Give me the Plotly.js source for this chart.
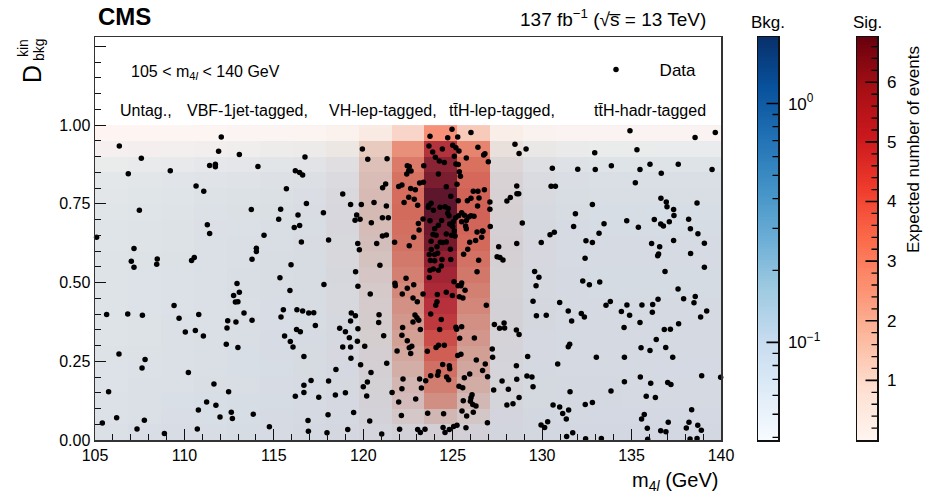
<!DOCTYPE html>
<html>
<head>
<meta charset="utf-8">
<script src="https://cdn.plot.ly/plotly-3.0.1.min.js"></script>
<style>html,body{margin:0;padding:0;background:#fff;}#chart{width:935px;height:498px;}</style>
</head>
<body>
<div id="chart"></div>
<script>
// ---- bin edges ----
const xEdges = [105, 106.84, 108.68, 110.53, 112.37, 114.21, 116.05, 117.89, 119.74, 121.58, 123.42, 125.26, 127.11, 128.95, 130.79, 132.63, 134.47, 136.32, 138.16, 140];
const yEdges = [0, 0.05, 0.10, 0.15, 0.20, 0.25, 0.30, 0.35, 0.40, 0.45, 0.50, 0.55, 0.60, 0.65, 0.70, 0.75, 0.80, 0.85, 0.90, 0.95, 1.00];

// ---- expected background per bin (rows: D bins from 0 upward) ----
const bkgYield = [
[0.55,0.61,0.66,0.72,0.77,0.86,0.94,0.99,1.05,1.05,1.10,1.10,1.10,1.10,1.10,1.10,1.10,1.10,1.10],
[0.50,0.55,0.60,0.65,0.70,0.78,0.85,0.90,0.95,0.95,1.00,1.00,1.00,1.00,1.00,1.00,1.00,1.00,1.00],
[0.48,0.52,0.57,0.62,0.67,0.74,0.81,0.86,0.90,0.90,0.95,0.95,0.95,0.95,0.95,0.95,0.95,0.95,0.95],
[0.46,0.51,0.55,0.60,0.64,0.72,0.78,0.83,0.87,0.87,0.92,0.92,0.92,0.92,0.92,0.92,0.92,0.92,0.92],
[0.45,0.50,0.54,0.59,0.63,0.70,0.77,0.81,0.86,0.86,0.90,0.90,0.90,0.90,0.90,0.90,0.90,0.90,0.90],
[0.44,0.48,0.53,0.57,0.62,0.69,0.75,0.79,0.84,0.84,0.88,0.88,0.88,0.88,0.88,0.88,0.88,0.88,0.88],
[0.43,0.47,0.52,0.56,0.60,0.67,0.73,0.77,0.82,0.82,0.86,0.86,0.86,0.86,0.86,0.86,0.86,0.86,0.86],
[0.43,0.47,0.51,0.55,0.60,0.66,0.72,0.77,0.81,0.81,0.85,0.85,0.85,0.85,0.85,0.85,0.85,0.85,0.85],
[0.42,0.46,0.50,0.55,0.59,0.66,0.71,0.76,0.80,0.80,0.84,0.84,0.84,0.84,0.84,0.84,0.84,0.84,0.84],
[0.42,0.46,0.50,0.54,0.58,0.65,0.71,0.75,0.79,0.79,0.83,0.83,0.83,0.83,0.83,0.83,0.83,0.83,0.83],
[0.41,0.45,0.49,0.53,0.57,0.64,0.70,0.74,0.78,0.78,0.82,0.82,0.82,0.82,0.82,0.82,0.82,0.82,0.82],
[0.40,0.44,0.48,0.52,0.56,0.62,0.68,0.72,0.76,0.76,0.80,0.80,0.80,0.80,0.80,0.80,0.80,0.80,0.80],
[0.39,0.43,0.47,0.51,0.55,0.61,0.66,0.70,0.74,0.74,0.78,0.78,0.78,0.78,0.78,0.78,0.78,0.78,0.78],
[0.37,0.41,0.44,0.48,0.52,0.58,0.63,0.67,0.70,0.70,0.74,0.74,0.74,0.74,0.74,0.74,0.74,0.74,0.74],
[0.35,0.39,0.42,0.46,0.49,0.55,0.60,0.63,0.67,0.67,0.70,0.70,0.70,0.70,0.70,0.70,0.70,0.70,0.70],
[0.32,0.35,0.38,0.42,0.45,0.50,0.54,0.58,0.61,0.61,0.64,0.64,0.64,0.64,0.64,0.64,0.64,0.64,0.64],
[0.28,0.31,0.34,0.36,0.39,0.44,0.48,0.50,0.53,0.53,0.56,0.56,0.56,0.56,0.56,0.56,0.56,0.56,0.56],
[0.20,0.22,0.24,0.26,0.28,0.31,0.34,0.36,0.38,0.38,0.40,0.40,0.40,0.40,0.40,0.40,0.40,0.40,0.40],
[0.10,0.11,0.12,0.13,0.14,0.16,0.17,0.18,0.19,0.19,0.20,0.20,0.20,0.20,0.20,0.20,0.20,0.20,0.20],
[0.040,0.040,0.042,0.045,0.048,0.050,0.053,0.055,0.057,0.057,0.060,0.060,0.060,0.060,0.060,0.060,0.060,0.060,0.060]
];

// ---- expected signal per bin ----
const sigYield = [
[0.03,0.03,0.03,0.03,0.04,0.04,0.05,0.08,0.20,0.35,0.5,0.40,0.12,0.06,0.04,0.03,0.03,0.03,0.03],
[0.04,0.04,0.04,0.04,0.05,0.05,0.06,0.10,0.35,0.90,1.3,0.90,0.20,0.08,0.05,0.04,0.04,0.04,0.04],
[0.04,0.04,0.04,0.05,0.05,0.06,0.07,0.12,0.45,1.20,2.4,1.30,0.25,0.10,0.05,0.05,0.04,0.04,0.04],
[0.04,0.04,0.05,0.05,0.05,0.06,0.08,0.15,0.50,1.40,2.8,1.60,0.30,0.10,0.06,0.05,0.04,0.04,0.04],
[0.04,0.05,0.05,0.05,0.06,0.06,0.08,0.15,0.55,1.60,3.2,1.80,0.30,0.10,0.06,0.05,0.05,0.04,0.04],
[0.05,0.05,0.05,0.05,0.06,0.07,0.09,0.20,0.60,1.80,3.6,2.00,0.35,0.12,0.06,0.05,0.05,0.05,0.05],
[0.05,0.05,0.05,0.06,0.06,0.07,0.09,0.20,0.70,2.00,4.0,2.20,0.40,0.12,0.06,0.05,0.05,0.05,0.05],
[0.05,0.05,0.05,0.06,0.06,0.07,0.10,0.20,0.80,2.20,4.5,2.40,0.45,0.15,0.07,0.05,0.05,0.05,0.05],
[0.05,0.05,0.05,0.06,0.06,0.07,0.10,0.25,0.85,2.40,4.7,2.60,0.45,0.15,0.07,0.05,0.05,0.05,0.05],
[0.05,0.05,0.06,0.06,0.07,0.08,0.10,0.25,0.90,2.60,5.0,2.80,0.50,0.15,0.07,0.06,0.05,0.05,0.05],
[0.05,0.05,0.06,0.06,0.07,0.08,0.11,0.30,1.00,2.80,5.3,3.00,0.50,0.18,0.07,0.06,0.05,0.05,0.05],
[0.05,0.06,0.06,0.06,0.07,0.08,0.11,0.30,1.10,3.00,5.8,3.20,0.55,0.20,0.08,0.06,0.05,0.05,0.05],
[0.05,0.06,0.06,0.07,0.07,0.08,0.12,0.30,1.20,3.20,6.3,3.40,0.60,0.20,0.08,0.06,0.05,0.05,0.05],
[0.05,0.06,0.06,0.07,0.07,0.09,0.12,0.35,1.30,3.30,6.5,3.50,0.60,0.20,0.08,0.06,0.05,0.05,0.05],
[0.05,0.06,0.06,0.07,0.08,0.09,0.12,0.35,1.40,3.40,6.7,3.60,0.65,0.20,0.08,0.06,0.05,0.05,0.05],
[0.05,0.06,0.06,0.07,0.08,0.09,0.12,0.35,1.40,3.40,6.7,3.60,0.65,0.20,0.08,0.06,0.05,0.05,0.05],
[0.05,0.06,0.06,0.07,0.08,0.09,0.12,0.35,1.40,3.30,6.3,3.50,0.65,0.20,0.08,0.06,0.05,0.05,0.05],
[0.05,0.06,0.06,0.07,0.08,0.09,0.12,0.35,1.40,3.20,6.1,3.40,0.65,0.20,0.08,0.06,0.05,0.05,0.05],
[0.04,0.05,0.05,0.06,0.07,0.08,0.10,0.30,1.30,2.80,5.4,3.10,0.60,0.20,0.07,0.05,0.05,0.04,0.04],
[0.02,0.03,0.03,0.03,0.04,0.04,0.05,0.15,0.50,1.20,3.0,1.50,0.30,0.10,0.04,0.03,0.03,0.02,0.02]
];

// ---- observed events: m4l (GeV) and D_bkg^kin ----
const dataM4l = [
106.36,107.59,106.86,109.21,112.06,111.91,113.07,111.41,111.73,111.73,114.11,110.65,111.08,116.20,116.44,116.61,115.70,107.48,113.74,115.38,115.27,116.35,116.44,116.14,111.28,111.41,114.45,116.54,105.09,107.18,107.03,107.18,108.48,108.45,110.55,110.40,114.02,114.02,113.78,115.96,115.34,116.74,116.82,
112.94,113.07,112.75,112.85,112.99,115.90,109.42,105.65,106.83,107.65,110.80,109.70,113.33,112.42,112.88,113.78,115.53,115.40,116.29,116.61,112.38,110.05,110.61,111.06,116.27,116.48,115.60,115.92,116.07,112.34,112.99,116.68,106.34,107.80,107.63,110.22,111.65,105.76,112.47,116.68,116.68,116.20,111.24,111.76,110.78,112.62,113.85,106.21,111.99,112.68,107.76,105.41,107.35,110.72,114.75,108.88,
124.96,126.02,123.73,124.72,125.28,123.67,124.42,125.00,125.18,125.35,126.41,126.73,126.80,123.88,124.03,125.09,125.76,119.95,120.25,121.33,124.25,124.53,125.18,125.31,126.99,123.38,122.46,122.57,122.54,122.67,122.43,125.37,125.43,124.20,121.25,121.08,122.16,121.98,123.15,123.36,122.65,122.91,124.64,125.24,126.15,126.41,126.77,118.85,122.54,122.85,124.89,126.47,126.02,125.82,117.77,119.29,119.89,120.60,121.29,122.28,123.04,123.66,123.79,123.64,123.92,124.29,124.57,124.75,124.72,124.79,125.31,127.08,126.39,127.08,125.50,125.65,125.33,125.16,125.03,125.50,125.76,125.89,126.02,126.19,119.63,119.54,119.82,120.45,121.07,121.40,123.34,123.73,124.38,124.83,124.94,123.08,123.12,124.20,123.99,125.00,125.76,125.09,125.72,127.10,126.36,126.66,118.06,119.69,119.78,120.75,121.07,121.29,121.75,122.82,122.57,123.90,124.07,123.79,124.64,124.94,125.13,124.44,124.31,124.64,124.12,125.95,126.28,126.62,126.69,123.80,123.69,123.99,124.16,124.87,124.40,124.89,123.75,123.99,125.84,126.45,125.61,120.93,119.57,124.36,124.20,123.73,123.92,126.36,127.57,127.48,127.64,127.81,128.03,128.22,123.69,122.39,
128.48,128.71,129.10,134.91,138.55,139.68,132.94,135.30,130.57,131.99,132.97,133.87,135.47,136.03,136.66,137.61,139.50,128.58,130.50,130.74,135.21,128.59,128.69,136.64,136.94,136.98,137.35,137.37,138.66,132.81,131.86,128.89,131.76,133.46,134.73,135.38,136.27,136.63,136.78,137.11,138.19,138.29,138.71,130.68,130.44,133.18,129.95,128.58,132.45,132.81,136.12,136.57,137.35,139.07,132.40,136.51,136.46,138.30,139.07,129.58,129.82,136.87,
129.66,132.27,132.64,133.22,129.49,130.98,137.60,137.91,138.56,138.49,139.20,138.86,133.57,133.81,134.74,135.58,136.18,136.48,129.68,130.23,131.46,132.19,132.36,131.65,134.43,134.89,136.16,135.47,134.58,137.63,136.83,137.17,136.38,128.56,128.71,131.46,131.54,135.53,136.03,136.91,137.30,129.19,133.03,134.60,130.87,128.56,129.15,129.43,128.58,129.49,135.49,134.60,136.07,137.02,137.20,138.92,139.98,131.56,133.85,128.71,135.82,136.33,130.61,130.98,131.48,131.15,131.35,132.41,132.81,135.71,135.56,138.36,129.94,130.14,130.31,137.05,138.21,138.70,138.90,138.06,135.88,136.63,136.92,131.37,131.71,132.43,133.31,135.90,138.27,138.66,
117.80,119.70,120.39,121.77,121.79,122.82,122.46,122.18,123.34,122.78,123.02,125.07,125.30,125.46,125.50,125.69,124.14,124.64,124.98,125.37,125.57,124.12,124.05,126.88,116.95,117.23,119.33,119.56,119.29,120.88,120.86,117.32,122.89,123.00,123.10,122.78,123.77,124.36,118.68,119.00,119.70,119.22,119.67,121.14,122.20,122.16,123.19,124.27,125.18,125.22,125.50,125.39,126.21,127.33,127.62,127.87,127.90,118.85,119.29,120.08,122.46,122.71,122.57,121.89,122.65,124.07,124.21,124.53,119.31,121.31,119.85,118.47,123.58,125.28,125.46,126.32,127.21,127.23,124.44,124.81,124.83,124.20,124.16,123.77,124.66,124.77,123.49,123.15,122.22,120.43,120.23,120.00,125.65,125.95,126.82,126.67,126.95,117.08,118.06,122.16,123.25,125.35,125.56,127.29,127.76,128.11,128.03,128.37,117.51,118.44,119.00,120.19,121.61,121.98,122.93,126.08,126.02,125.99,126.12,126.30,125.59,125.52,125.78,126.15,118.03,119.46,120.36,122.13,123.60,124.49,116.91,126.94,116.93,117.97,119.13,121.03,122.03,123.04,123.19,123.45,124.46,124.57,124.81,125.05,125.24,125.74
];
const dataDbkg = [
0.934,0.895,0.846,0.855,0.962,0.917,0.907,0.872,0.876,0.868,0.869,0.807,0.790,0.855,0.850,0.842,0.798,0.730,0.732,0.733,0.701,0.715,0.681,0.675,0.684,0.656,0.650,0.629,0.644,0.608,0.568,0.549,0.575,0.558,0.580,0.570,0.609,0.599,0.574,0.557,0.515,0.899,0.751,
0.497,0.469,0.459,0.438,0.439,0.475,0.427,0.399,0.400,0.396,0.399,0.387,0.403,0.379,0.375,0.380,0.414,0.391,0.414,0.410,0.356,0.343,0.348,0.330,0.351,0.344,0.330,0.313,0.295,0.304,0.294,0.265,0.273,0.256,0.229,0.214,0.178,0.153,0.153,0.174,0.151,0.139,0.121,0.110,0.095,0.088,0.082,0.071,0.073,0.068,0.063,0.054,0.035,0.035,0.042,0.021,
0.987,0.977,0.965,0.960,0.962,0.934,0.924,0.936,0.928,0.918,0.930,0.905,0.909,0.915,0.898,0.901,0.896,0.924,0.892,0.893,0.886,0.881,0.877,0.875,0.884,0.871,0.871,0.869,0.855,0.854,0.845,0.852,0.838,0.845,0.813,0.801,0.810,0.805,0.816,0.819,0.799,0.795,0.804,0.812,0.790,0.790,0.795,0.781,0.771,0.765,0.774,0.769,0.768,0.760,0.722,0.748,0.748,0.754,0.743,0.754,0.746,0.745,0.752,0.739,0.730,0.739,0.741,0.735,0.720,0.712,0.760,0.756,0.743,0.733,0.722,0.714,0.712,0.706,0.693,0.693,0.697,0.708,0.712,0.711,0.715,0.698,0.701,0.690,0.706,0.706,0.702,0.696,0.697,0.686,0.682,0.688,0.667,0.682,0.671,0.678,0.671,0.664,0.680,0.678,0.661,0.664,0.635,0.624,0.604,0.624,0.648,0.651,0.628,0.644,0.617,0.653,0.650,0.631,0.654,0.650,0.648,0.627,0.628,0.629,0.614,0.628,0.634,0.644,0.663,0.605,0.589,0.589,0.593,0.606,0.573,0.573,0.570,0.569,0.606,0.571,0.590,0.555,0.534,0.553,0.539,0.539,0.543,0.534,0.614,0.582,0.580,0.572,0.759,0.770,0.516,0.514,
0.939,0.910,0.924,0.982,0.961,0.977,0.912,0.922,0.863,0.860,0.859,0.871,0.859,0.876,0.847,0.876,0.859,0.807,0.806,0.806,0.817,0.782,0.782,0.768,0.756,0.741,0.732,0.713,0.753,0.748,0.719,0.689,0.678,0.687,0.696,0.676,0.700,0.686,0.680,0.693,0.701,0.671,0.655,0.660,0.652,0.657,0.627,0.624,0.633,0.627,0.624,0.614,0.634,0.625,0.577,0.591,0.585,0.592,0.549,0.535,0.517,0.535,
0.490,0.505,0.493,0.502,0.441,0.437,0.480,0.449,0.456,0.436,0.410,0.391,0.428,0.440,0.429,0.429,0.430,0.447,0.395,0.396,0.410,0.402,0.391,0.378,0.408,0.396,0.406,0.373,0.357,0.369,0.351,0.352,0.319,0.349,0.335,0.296,0.304,0.293,0.284,0.294,0.263,0.265,0.263,0.263,0.241,0.236,0.203,0.200,0.193,0.169,0.200,0.185,0.180,0.183,0.176,0.204,0.199,0.153,0.156,0.135,0.139,0.135,0.111,0.105,0.095,0.084,0.067,0.113,0.119,0.081,0.067,0.096,0.048,0.040,0.058,0.056,0.056,0.047,0.031,0.038,0.037,0.029,0.026,0.011,0.023,0.004,0.005,0.002,0.003,0.005,
0.494,0.488,0.464,0.498,0.490,0.493,0.482,0.464,0.464,0.451,0.439,0.503,0.490,0.490,0.499,0.476,0.462,0.469,0.459,0.455,0.451,0.439,0.428,0.428,0.403,0.404,0.403,0.395,0.378,0.398,0.373,0.364,0.397,0.388,0.380,0.375,0.400,0.383,0.355,0.344,0.353,0.325,0.314,0.331,0.357,0.333,0.351,0.351,0.358,0.352,0.360,0.323,0.324,0.367,0.355,0.372,0.356,0.295,0.295,0.298,0.315,0.298,0.293,0.283,0.275,0.294,0.301,0.301,0.260,0.244,0.239,0.224,0.282,0.268,0.272,0.254,0.289,0.263,0.240,0.236,0.226,0.217,0.206,0.204,0.200,0.191,0.188,0.194,0.194,0.214,0.184,0.169,0.198,0.210,0.241,0.221,0.201,0.189,0.187,0.163,0.165,0.171,0.166,0.159,0.187,0.161,0.111,0.115,0.136,0.143,0.150,0.140,0.151,0.121,0.130,0.144,0.134,0.123,0.113,0.108,0.125,0.092,0.076,0.088,0.080,0.087,0.060,0.078,0.085,0.083,0.062,0.055,0.028,0.023,0.033,0.019,0.034,0.033,0.024,0.034,0.040,0.024,0.033,0.043,0.047,0.039
];

// ---- colour-scale ranges ----
const bkgRange = [0.039, 1.9];
const sigRange = [0, 6.76];

const FONT = 'Liberation Sans, Arial, Helvetica, sans-serif';
const blues = [[0,'#f7fbff'],[0.125,'#deebf7'],[0.25,'#c6dbef'],[0.375,'#9ecae1'],[0.5,'#6baed6'],[0.625,'#4292c6'],[0.75,'#2171b5'],[0.875,'#08519c'],[1,'#08306b']];
const reds = [[0,'#fff5f0'],[0.125,'#fee0d2'],[0.25,'#fcbba1'],[0.375,'#fc9272'],[0.5,'#fb6a4a'],[0.625,'#ef3b2c'],[0.75,'#cb181d'],[0.875,'#a50f15'],[1,'#67000d']];

const lzmin = Math.log10(bkgRange[0]), lzmax = Math.log10(bkgRange[1]);
const bkgLog = bkgYield.map(r => r.map(v => Math.log10(v)));

// colour-bar gradients (legend of the colour scales, not data)
const NLEV = 150;
const gradient = (lo, hi) => {
  const edges = [], z = [];
  for (let i = 0; i <= NLEV; i++) edges.push(lo + (hi - lo) * i / NLEV);
  for (let i = 0; i < NLEV; i++) z.push([(edges[i] + edges[i + 1]) / 2]);
  return {edges, z};
};
const bkgBar = gradient(lzmin, lzmax);
const sigBar = gradient(sigRange[0], sigRange[1]);
const bkgMajor = [0.1, 1.0];
const bkgMinor = [0.04,0.05,0.06,0.07,0.08,0.09,0.2,0.3,0.4,0.5,0.6,0.7,0.8,0.9];
const sigMajor = [1, 2, 3, 4, 5, 6];
const sigMinor = [];
for (let k = 1; k <= 33; k++) { const v = Math.round(k * 2) / 10; if (!Number.isInteger(v)) sigMinor.push(v); }

// layout geometry (px): main plot x 95..721, y 37..440; bars at 758..778 and 857..877
const L = 95, RR = 925, T = 37, B = 440;
const W = RR - L;
const px = x => (x - L) / W;
const py = y => (B - y) / (B - T);

// colour-bar tick marks: arrow-only annotations (drawn on top of everything), pointing at the bar's right edge
const tickAnns = [];
const addTick = (xa, ya, v, len, w) => tickAnns.push({xref: xa, yref: ya, x: 1, y: v, text: '', showarrow: true,
  arrowhead: 0, arrowwidth: w, arrowcolor: '#000', ax: -len, ay: 0, standoff: 0, startstandoff: 0, borderpad: 0});
bkgMajor.forEach(v => addTick('x2', 'y2', Math.log10(v), 12, 1.6));
bkgMinor.forEach(v => addTick('x2', 'y2', Math.log10(v), 6, 1.3));
sigMajor.forEach(v => addTick('x3', 'y3', v, 12, 1.6));
sigMinor.forEach(v => addTick('x3', 'y3', v, 6, 1.3));

const traces = [
  {type: 'heatmap', x: xEdges, y: yEdges, z: bkgLog, colorscale: blues, zmin: lzmin, zmax: lzmax,
   showscale: false, hoverinfo: 'skip', showlegend: false},
  {type: 'heatmap', x: xEdges, y: yEdges, z: sigYield, colorscale: reds, zmin: sigRange[0], zmax: sigRange[1],
   opacity: 0.82, showscale: false, hoverinfo: 'skip', showlegend: false},
  {type: 'scatter', mode: 'markers', x: dataM4l, y: dataDbkg, name: '\u00a0\u00a0\u00a0\u00a0\u00a0Data',
   marker: {color: '#000', size: 5.5}, hoverinfo: 'skip', cliponaxis: false},
  {type: 'heatmap', xaxis: 'x2', yaxis: 'y2', x: [0, 1], y: bkgBar.edges, z: bkgBar.z,
   colorscale: blues, zmin: lzmin, zmax: lzmax, showscale: false, hoverinfo: 'skip', showlegend: false},
  {type: 'heatmap', xaxis: 'x3', yaxis: 'y3', x: [0, 1], y: sigBar.edges, z: sigBar.z,
   colorscale: reds, zmin: sigRange[0], zmax: sigRange[1], showscale: false, hoverinfo: 'skip', showlegend: false}
];

const ann = (text, x, y, size, opts) => Object.assign({text, x: px(x), y: py(y), xref: 'paper', yref: 'paper',
  showarrow: false, xanchor: 'left', yanchor: 'middle', font: {family: FONT, size, color: '#000'}}, opts || {});

const barX = (a, b, anchor) => ({domain: [px(a), px(b)], range: [0, 1], anchor: anchor, showticklabels: false,
  ticks: '', showgrid: false, zeroline: false, showline: true, mirror: true, linecolor: '#111', linewidth: 1.5, fixedrange: true});
const barY = (anchor, range, tv, tt) => ({domain: [0, 1], anchor: anchor, side: 'right', range: range,
  showgrid: false, zeroline: false, showline: true, mirror: true, linecolor: '#111', linewidth: 1.5, fixedrange: true,
  tickmode: 'array', tickvals: tv, ticktext: tt, ticks: '', ticklabelstandoff: 5,
  tickfont: {family: FONT, size: 17, color: '#000'}});

const layout = {
  width: 935, height: 498,
  margin: {l: L, r: 935 - RR, t: T, b: 498 - B, pad: 0},
  paper_bgcolor: '#fff', plot_bgcolor: '#fff',
  font: {family: FONT, color: '#000'},
  showlegend: true,
  legend: {x: px(596), y: py(70), xanchor: 'left', yanchor: 'middle', bgcolor: 'rgba(0,0,0,0)',
    font: {family: FONT, size: 17, color: '#000'}},
  xaxis: {domain: [0, px(721)], range: [105, 140], tickmode: 'array', tickvals: [105,110,115,120,125,130,135,140],
    ticks: 'inside', ticklen: 11, tickwidth: 1.2, tickcolor: '#111',
    minor: {ticks: 'inside', ticklen: 6, dtick: 1, tick0: 105, tickcolor: '#111', tickwidth: 1},
    showline: true, linecolor: '#333', linewidth: 1.5, mirror: true,
    showgrid: false, zeroline: false, tickfont: {family: FONT, size: 16, color: '#000'}},
  yaxis: {range: [0, 1.28], tickmode: 'array', tickvals: [0, 0.25, 0.5, 0.75, 1.0, 1.25],
    ticktext: ['0.00','0.25','0.50','0.75','1.00',''],
    ticks: 'inside', ticklen: 11, tickwidth: 1.2, tickcolor: '#111',
    minor: {ticks: 'inside', ticklen: 6, dtick: 0.05, tick0: 0, tickcolor: '#111', tickwidth: 1},
    showline: true, linecolor: '#333', linewidth: 1.5, mirror: true,
    showgrid: false, zeroline: false, tickfont: {family: FONT, size: 16, color: '#000'}},
  xaxis2: barX(758, 778, 'y2'),
  yaxis2: barY('x2', [lzmin, lzmax], bkgMajor.map(v => Math.log10(v)), ['10<sup>\u22121</sup>', '10<sup>0</sup>']),
  xaxis3: barX(857, 877, 'y3'),
  yaxis3: barY('x3', sigRange, sigMajor, sigMajor.map(String)),
  annotations: [
    ann('<b>CMS</b>', 96, 16, 24),
    ann('137 fb<sup>\u22121</sup> (\u221As\u0305 = 13 TeV)', 708, 18, 19, {xanchor: 'right'}),
    ann('105 < m<sub>4<i>l</i></sub> < 140 GeV', 129, 72, 16),
    ann('Untag.,', 118, 110, 16),
    ann('VBF-1jet-tagged,', 185, 110, 16),
    ann('VH-lep-tagged,', 327, 110, 16),
    ann('tt\u0304H-lep-tagged,', 447, 110, 16),
    ann('tt\u0304H-hadr-tagged', 592, 110, 16),
    ann('Bkg.', 768, 23, 17, {xanchor: 'center'}),
    ann('Sig.', 867, 23, 17, {xanchor: 'center'}),
    ann('Expected number of events', 913, 150, 17, {xanchor: 'center', textangle: -90}),
    ann('m<sub>4<i>l</i></sub> (GeV)', 721, 481, 20, {xanchor: 'right'}),
    ann('D', 32, 74, 25, {xanchor: 'center', textangle: -90}),
    ann('kin', 23, 48, 14, {xanchor: 'center', textangle: -90}),
    ann('bkg', 39, 50, 14, {xanchor: 'center', textangle: -90})
  ].concat(tickAnns)
};

Plotly.newPlot('chart', traces, layout, {staticPlot: true, displayModeBar: false});
</script>
</body>
</html>
